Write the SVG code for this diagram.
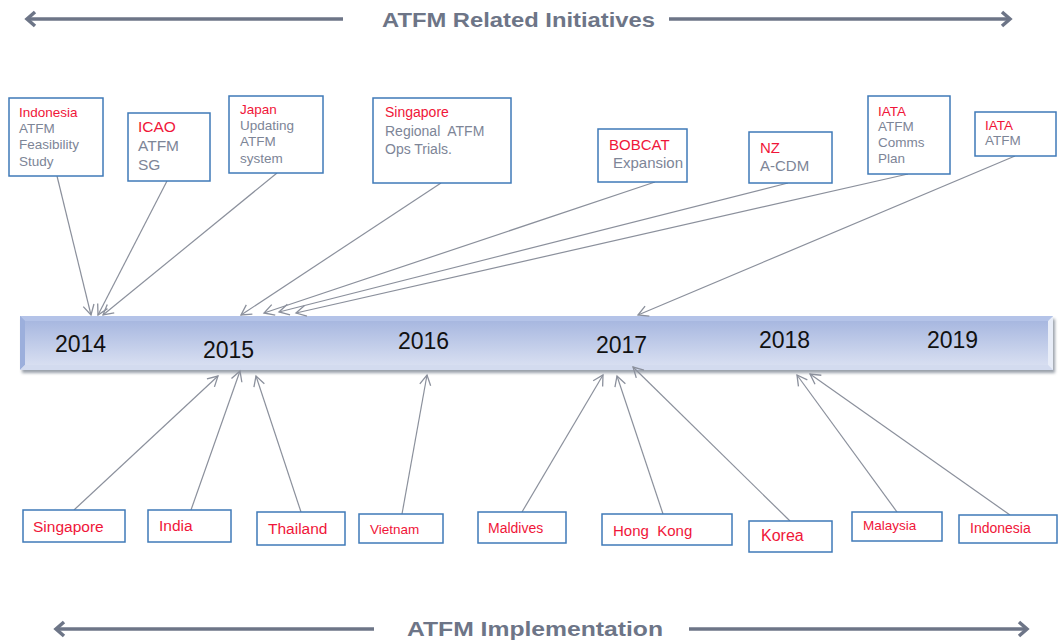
<svg xmlns="http://www.w3.org/2000/svg" width="1058" height="642" viewBox="0 0 1058 642">
<defs>
<style>
.box{fill:#fff;stroke:#3f7ab8;stroke-width:1.5}
.r{fill:#f01639;font-family:"Liberation Sans",Arial,sans-serif}
.g{fill:#7d8597;font-family:"Liberation Sans",Arial,sans-serif}
.yr{fill:#111;font-family:"Liberation Sans",Arial,sans-serif;font-size:23px}
.hd{fill:#6d7587;font-family:"Liberation Sans",Arial,sans-serif;font-weight:bold;font-size:21px}
.con{stroke:#8b909c;stroke-width:1.2;fill:none;marker-end:url(#ah)}
.big{stroke:#6d7587;stroke-width:3.5;fill:none}
</style>
<marker id="ah" markerUnits="userSpaceOnUse" markerWidth="14" markerHeight="14" refX="12" refY="7" orient="auto">
<path d="M2,1.5 L12,7 L2,12.5" fill="none" stroke="#8b909c" stroke-width="1.3"/>
</marker>
<marker id="bh" markerUnits="userSpaceOnUse" markerWidth="16" markerHeight="20" refX="13" refY="10" orient="auto-start-reverse">
<path d="M5,3 L13,10 L5,17" fill="none" stroke="#6d7587" stroke-width="3.5"/>
</marker>
<linearGradient id="barg" x1="0" y1="0" x2="0" y2="1">
<stop offset="0" stop-color="#a2b3de"/>
<stop offset="1" stop-color="#dde3f3"/>
</linearGradient>
<filter id="sh" x="-5%" y="-20%" width="110%" height="160%">
<feGaussianBlur stdDeviation="1.5"/>
</filter>
</defs>
<rect width="1058" height="642" fill="#fff"/>

<g id="header-top">
<line class="big" x1="27" y1="19" x2="343" y2="19" marker-start="url(#bh)"/>
<line class="big" x1="669" y1="19" x2="1010" y2="19" marker-end="url(#bh)"/>
<text class="hd" x="382" y="27" textLength="273" lengthAdjust="spacingAndGlyphs">ATFM Related Initiatives</text>
</g>
<g id="header-bottom">
<line class="big" x1="56" y1="629" x2="374" y2="629" marker-start="url(#bh)"/>
<line class="big" x1="689" y1="629" x2="1027" y2="629" marker-end="url(#bh)"/>
<text class="hd" x="407" y="636" font-size="22" textLength="256" lengthAdjust="spacingAndGlyphs">ATFM Implementation</text>
</g>

<g id="timeline">
<rect x="22" y="319" width="1033" height="54" fill="#9aa0aa" filter="url(#sh)"/>
<rect x="20" y="316" width="1033" height="54" fill="url(#barg)"/>
<polygon points="20,316 1053,316 1048,321 25,321" fill="#b4c3e8"/>
<polygon points="20,316 25,321 25,365 20,370" fill="#9cafdc"/>
<polygon points="1053,316 1053,370 1048,365 1048,321" fill="#e8edf8"/>
<polygon points="20,370 25,365 1048,365 1053,370" fill="#d3dbef"/>
<text class="yr" x="55" y="352">2014</text>
<text class="yr" x="203" y="358">2015</text>
<text class="yr" x="398" y="349">2016</text>
<text class="yr" x="596" y="353">2017</text>
<text class="yr" x="759" y="348">2018</text>
<text class="yr" x="927" y="348">2019</text>
</g>

<g id="connectors">
<line class="con" x1="57" y1="176" x2="91" y2="315"/>
<line class="con" x1="167" y1="181" x2="98" y2="315"/>
<line class="con" x1="277" y1="173" x2="103" y2="315"/>
<line class="con" x1="441" y1="183" x2="241" y2="315"/>
<line class="con" x1="655" y1="182" x2="264" y2="313"/>
<line class="con" x1="788" y1="183" x2="279" y2="312"/>
<line class="con" x1="908" y1="174" x2="296" y2="313"/>
<line class="con" x1="1015" y1="156" x2="638" y2="315"/>
<line class="con" x1="74" y1="510" x2="218" y2="376"/>
<line class="con" x1="191" y1="510" x2="240" y2="371"/>
<line class="con" x1="301" y1="512" x2="256" y2="376"/>
<line class="con" x1="402" y1="514" x2="427" y2="375"/>
<line class="con" x1="522" y1="512" x2="603" y2="375"/>
<line class="con" x1="663" y1="514" x2="617" y2="376"/>
<line class="con" x1="790" y1="521" x2="633" y2="367"/>
<line class="con" x1="897" y1="512" x2="797" y2="375"/>
<line class="con" x1="1010" y1="515" x2="810" y2="374"/>
</g>

<g id="top-indonesia">
<rect class="box" x="9" y="98" width="94" height="78"/>
<text class="r" x="19" y="117" font-size="13.5">Indonesia</text>
<text class="g" x="19" y="133" font-size="13.5">ATFM</text>
<text class="g" x="19" y="149" font-size="13.5">Feasibility</text>
<text class="g" x="19" y="166" font-size="13.5">Study</text>
</g>
<g id="top-icao">
<rect class="box" x="128" y="113" width="82" height="68"/>
<text class="r" x="138" y="132" font-size="15.5">ICAO</text>
<text class="g" x="138" y="151" font-size="15.5">ATFM</text>
<text class="g" x="138" y="170" font-size="15.5">SG</text>
</g>
<g id="top-japan">
<rect class="box" x="229" y="96" width="94" height="77"/>
<text class="r" x="240" y="114" font-size="13.5">Japan</text>
<text class="g" x="240" y="130" font-size="13.5">Updating</text>
<text class="g" x="240" y="146" font-size="13.5">ATFM</text>
<text class="g" x="240" y="163" font-size="13.5">system</text>
</g>
<g id="top-singapore">
<rect class="box" x="373" y="98" width="138" height="85"/>
<text class="r" x="385" y="117" font-size="14">Singapore</text>
<text class="g" x="385" y="136" font-size="14" xml:space="preserve">Regional  ATFM</text>
<text class="g" x="385" y="154" font-size="14">Ops Trials.</text>
</g>
<g id="top-bobcat">
<rect class="box" x="598" y="129" width="89" height="53"/>
<text class="r" x="609" y="150" font-size="15">BOBCAT</text>
<text class="g" x="613" y="168" font-size="15">Expansion</text>
</g>
<g id="top-nz">
<rect class="box" x="749" y="132" width="83" height="51"/>
<text class="r" x="760" y="153" font-size="15">NZ</text>
<text class="g" x="760" y="171" font-size="15">A-CDM</text>
</g>
<g id="top-iata-comms">
<rect class="box" x="868" y="96" width="82" height="78"/>
<text class="r" x="878" y="116" font-size="13.5">IATA</text>
<text class="g" x="878" y="131" font-size="13.5">ATFM</text>
<text class="g" x="878" y="147" font-size="13.5">Comms</text>
<text class="g" x="878" y="163" font-size="13.5">Plan</text>
</g>
<g id="top-iata-atfm">
<rect class="box" x="975" y="112" width="81" height="44"/>
<text class="r" x="985" y="130" font-size="13.5">IATA</text>
<text class="g" x="985" y="145" font-size="13.5">ATFM</text>
</g>

<g id="bot-singapore">
<rect class="box" x="23" y="510" width="102" height="32"/>
<text class="r" x="33" y="532" font-size="15.5">Singapore</text>
</g>
<g id="bot-india">
<rect class="box" x="148" y="510" width="83" height="32"/>
<text class="r" x="159" y="531" font-size="15.5">India</text>
</g>
<g id="bot-thailand">
<rect class="box" x="257" y="512" width="88" height="33"/>
<text class="r" x="268" y="534" font-size="15.5">Thailand</text>
</g>
<g id="bot-vietnam">
<rect class="box" x="359" y="514" width="84" height="29"/>
<text class="r" x="370" y="534" font-size="13.5">Vietnam</text>
</g>
<g id="bot-maldives">
<rect class="box" x="478" y="512" width="88" height="31"/>
<text class="r" x="488" y="533" font-size="14">Maldives</text>
</g>
<g id="bot-hongkong">
<rect class="box" x="602" y="514" width="130" height="31"/>
<text class="r" x="613" y="536" font-size="15" xml:space="preserve">Hong  Kong</text>
</g>
<g id="bot-korea">
<rect class="box" x="749" y="521" width="83" height="31"/>
<text class="r" x="761" y="541" font-size="16">Korea</text>
</g>
<g id="bot-malaysia">
<rect class="box" x="852" y="512" width="90" height="29"/>
<text class="r" x="863" y="530" font-size="13.5">Malaysia</text>
</g>
<g id="bot-indonesia">
<rect class="box" x="959" y="515" width="98" height="28"/>
<text class="r" x="970" y="533" font-size="14">Indonesia</text>
</g>
</svg>
